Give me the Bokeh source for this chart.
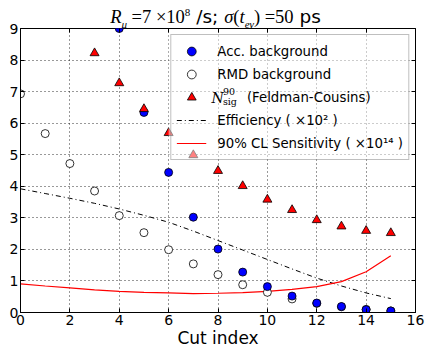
from bokeh.plotting import figure
from bokeh.models import (Label, Legend, LegendItem, FixedTicker, Range1d, Div, LinearAxis,
                          BoxAnnotation)
from bokeh.layouts import column
from bokeh.embed import file_html
from bokeh.resources import INLINE

# ---- data ----
acc_x = [4, 5, 6, 7, 8, 9, 10, 11, 12, 13, 14, 15]
acc_y = [9.0, 6.34, 4.44, 3.02, 2.01, 1.28, 0.82, 0.52, 0.30, 0.19, 0.09, 0.05]

rmd_x = [0, 1, 2, 3, 4, 5, 6, 7, 8, 9, 10, 11, 12, 13, 14, 15]
rmd_y = [6.93, 5.67, 4.72, 3.85, 3.07, 2.53, 1.99, 1.54, 1.20, 0.88, 0.64, 0.43, 0.29, 0.18, 0.10, 0.05]

fc_x = [3, 4, 5, 6, 7, 8, 9, 10, 11, 12, 13, 14, 15]
fc_y = [8.22, 7.27, 6.45, 5.69, 4.99, 4.49, 4.01, 3.58, 3.25, 2.93, 2.73, 2.59, 2.52]

cut = [0, 1, 2, 3, 4, 5, 6, 7, 8, 9, 10, 11, 12, 13, 14, 15]
eff = [3.92, 3.77, 3.62, 3.46, 3.28, 3.08, 2.86, 2.58, 2.28, 1.98, 1.68, 1.38, 1.09, 0.84, 0.62, 0.44]
sens = [0.91, 0.84, 0.78, 0.72, 0.67, 0.64, 0.62, 0.60, 0.61, 0.63, 0.67, 0.73, 0.82, 0.98, 1.29, 1.80]

x_ticks = [0, 2, 4, 6, 8, 10, 12, 14, 16]
y_ticks = [0, 1, 2, 3, 4, 5, 6, 7, 8, 9]

FONT = "DejaVu Sans"
SERIF = "DejaVu Serif"

S = "font-family:'Liberation Serif';"
title_div = Div(
    text=(f'<span style="{S}font-style:italic">R</span>'
          f'<sub style="{S}font-style:italic;font-size:11px;line-height:0">μ</sub>'
          f'<span style="{S}">&nbsp;=7 ×10</span>'
          f'<sup style="{S}font-size:11px;line-height:0">8</sup>'
          '<span style="font-family:\'DejaVu Sans\'">&nbsp;/s; </span>'
          f'<span style="{S}font-style:italic">σ</span>'
          f'<span style="{S}">(</span>'
          f'<span style="{S}font-style:italic">t</span>'
          f'<sub style="{S}font-style:italic;font-size:11px;line-height:0">eγ</sub>'
          f'<span style="{S}">)&nbsp;=50</span>'
          '<span style="font-family:\'DejaVu Sans\'"> ps</span>'),
    width=431, height=20, margin=(0, 0, 0, 0),
    styles={"text-align": "center", "font-size": "18.5px", "line-height": "17px",
            "color": "black", "width": "431px", "white-space": "nowrap",
            "overflow": "visible", "position": "relative", "top": "8px"})

p = figure(width=431, height=333, x_range=Range1d(0, 16), y_range=Range1d(0, 9),
           output_backend="svg", toolbar_location=None,
           min_border_top=8, min_border_right=16, min_border_left=20, min_border_bottom=41)
p.border_fill_color = None
p.outline_line_color = "black"
p.outline_line_width = 1
p.background_fill_color = "white"

for ax in (p.xaxis[0], p.yaxis[0]):
    ax.major_tick_in = 4
    ax.major_tick_out = 0
    ax.minor_tick_line_color = None
    ax.axis_line_color = "black"
    ax.major_label_text_font = FONT
    ax.major_label_text_font_size = "14px"
    ax.major_label_text_color = "black"
p.xaxis[0].ticker = FixedTicker(ticks=x_ticks)
p.yaxis[0].ticker = FixedTicker(ticks=y_ticks)
p.xaxis[0].major_label_standoff = 2
p.yaxis[0].major_label_standoff = 2
p.xaxis[0].axis_label = "Cut index"
p.xaxis[0].axis_label_text_font = FONT
p.xaxis[0].axis_label_text_font_size = "17px"
p.xaxis[0].axis_label_text_font_style = "normal"
p.xaxis[0].axis_label_text_color = "black"
p.xaxis[0].axis_label_standoff = 0

# inner ticks on the top and right spines (no labels)
for loc, tks in (("right", y_ticks), ("above", x_ticks)):
    a = LinearAxis(ticker=FixedTicker(ticks=tks), major_tick_in=4, major_tick_out=0,
                   minor_tick_line_color=None, axis_line_color=None,
                   major_label_overrides={t: "" for t in tks}, major_label_standoff=0)
    p.add_layout(a, loc)

p.xgrid.ticker = FixedTicker(ticks=x_ticks)
p.ygrid.ticker = FixedTicker(ticks=y_ticks)
p.grid.grid_line_color = "black"
p.grid.grid_line_dash = "1 3"
p.grid.grid_line_alpha = 0.8

r_eff = p.line(cut, eff, line_color="black", line_width=1, line_dash="5 3 1 3")
r_sens = p.line(cut, sens, line_color="red", line_width=1.2)
r_rmd = p.scatter(rmd_x, rmd_y, marker="circle", size=8, fill_color="white", line_color="black", line_width=0.8)
r_acc = p.scatter(acc_x, acc_y, marker="circle", size=8, fill_color="blue", line_color="black", line_width=0.8)
r_fc = p.scatter(fc_x, fc_y, marker="triangle", size=9, fill_color="red", line_color="black", line_width=0.8)

# translucent white panel behind the legend (legend itself has no fill)
p.add_layout(BoxAnnotation(left=6.0, right=15.76, top=8.81, bottom=4.88,
                           fill_color="white", fill_alpha=0.5, line_color=None,
                           level="annotation"))

NB = "\u00a0"
legend = Legend(items=[
    LegendItem(label="Acc. background", renderers=[r_acc]),
    LegendItem(label="RMD background", renderers=[r_rmd]),
    LegendItem(label=NB * 7 + "(Feldman-Cousins)", renderers=[r_fc]),
    LegendItem(label="Efficiency ( ×10² )", renderers=[r_eff]),
    LegendItem(label="90% CL Sensitivity ( ×10¹⁴ )", renderers=[r_sens]),
], location="top_right")
legend.label_text_font = FONT
legend.label_text_font_size = "13.3px"
legend.label_text_color = "black"
legend.border_line_color = "#808080"
legend.border_line_width = 1
legend.background_fill_alpha = 0
legend.margin = 6
legend.padding = 5
legend.spacing = 1
legend.glyph_width = 30
legend.glyph_height = 22
legend.label_height = 22
legend.label_standoff = 11
p.add_layout(legend)

# legend N^90_sig pieces
p.add_layout(Label(x=7.74, y=6.81, text="N", text_font=SERIF, text_font_style="italic",
                   text_color="black", text_font_size="14px", text_baseline="alphabetic",
                   level="overlay"))
p.add_layout(Label(x=8.2, y=7.0, text="90", text_font=SERIF, text_color="black",
                   text_font_size="9.5px", text_baseline="alphabetic", level="overlay"))
p.add_layout(Label(x=8.2, y=6.69, text="sig", text_font=SERIF, text_color="black",
                   text_font_size="9.5px", text_baseline="alphabetic", level="overlay"))

layout = column(title_div, p, spacing=0)
open("out.html", "w").write(file_html(layout, INLINE))
